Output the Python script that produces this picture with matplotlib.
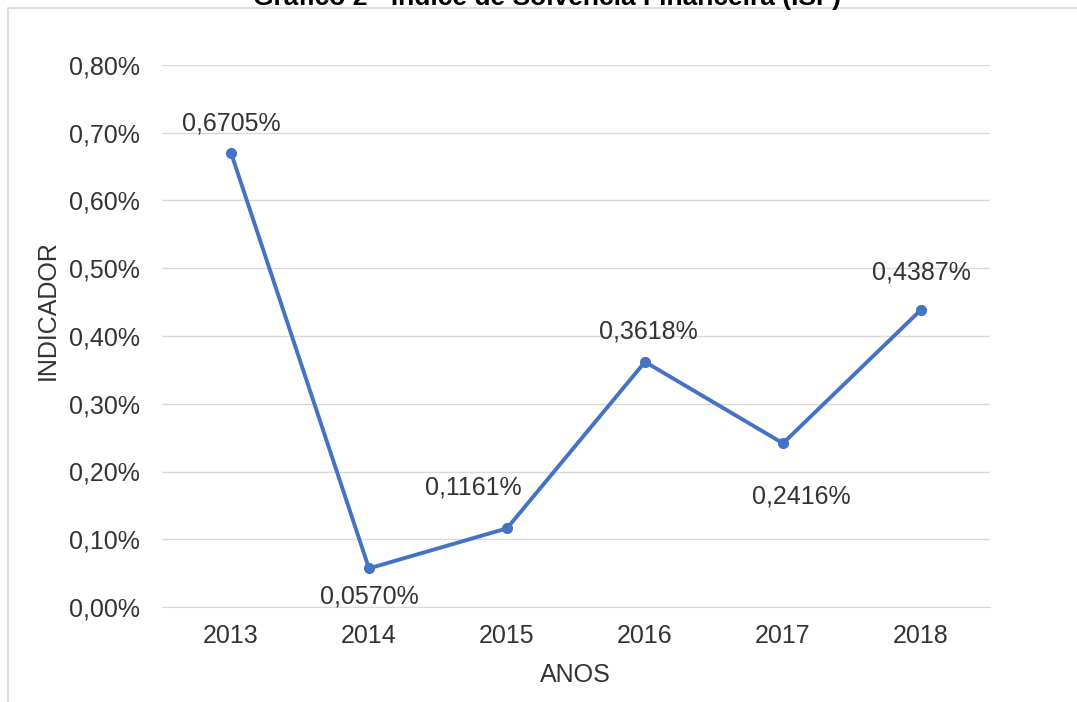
import matplotlib.pyplot as plt
from matplotlib.patches import Rectangle
from matplotlib.ticker import FuncFormatter, MultipleLocator

plt.rcParams["font.family"] = ["Liberation Sans", "DejaVu Sans"]

anos = ["2013", "2014", "2015", "2016", "2017", "2018"]
isf = [0.6705, 0.0570, 0.1161, 0.3618, 0.2416, 0.4387]  # em %

# deslocamento dos rótulos (pixels) para cada ponto
offsets = [(0, 29), (0, -28), (-34, 41), (3, 30), (18, -53), (0, 37)]

txt = "#333333"
cor = "#4472C4"
fs = 18

fig = plt.figure(figsize=(10.77, 7.02), dpi=100)
ax = fig.add_axes([162 / 1077, 1 - 607 / 702, 828 / 1077, 542 / 702])

# moldura cinza da figura
fig.patches.append(Rectangle((8 / 1077, -0.1), 1.2, 1 - 8 / 702 + 0.1,
                             transform=fig.transFigure, fill=False,
                             edgecolor="#d9d9d9", linewidth=1.2))

x = list(range(len(anos)))
ax.plot(x, isf, color=cor, linewidth=2.8, marker="o", markersize=7, zorder=3)

for xi, v, (dx, dy) in zip(x, isf, offsets):
    rot = f"{v:.4f}%".replace(".", ",")
    ax.annotate(rot, (xi, v), xytext=(dx, dy), textcoords="offset pixels",
                ha="center", va="center", fontsize=fs, color=txt)

ax.set_xlim(-0.5, 5.5)
ax.set_ylim(0, 0.8)
ax.set_xticks(x)
ax.set_xticklabels(anos)
ax.yaxis.set_major_locator(MultipleLocator(0.1))
ax.yaxis.set_major_formatter(FuncFormatter(lambda v, p: f"{v:.2f}%".replace(".", ",")))
ax.tick_params(length=0, labelsize=fs, colors=txt)
ax.tick_params(axis="y", pad=16)
ax.tick_params(axis="x", pad=12)
ax.grid(axis="y", color="#d9d9d9", linewidth=1)
ax.set_axisbelow(True)
for s in ["top", "right", "left"]:
    ax.spines[s].set_visible(False)
ax.spines["bottom"].set_color("#d9d9d9")

fig.text(575 / 1077, 1 - 675 / 702, "ANOS", ha="center", va="center",
         fontsize=fs, color=txt)
fig.text(48 / 1077, 1 - 310 / 702, "INDICADOR", ha="center", va="center",
         rotation=90, fontsize=fs, color=txt)

fig.text(547 / 1077, 1 - 5 / 702, "Gráfico 2 - Índice de Solvência Financeira (ISF)",
         ha="center", va="baseline", fontsize=19, fontweight="bold", color="black")

fig.savefig("out.png", dpi=100)
